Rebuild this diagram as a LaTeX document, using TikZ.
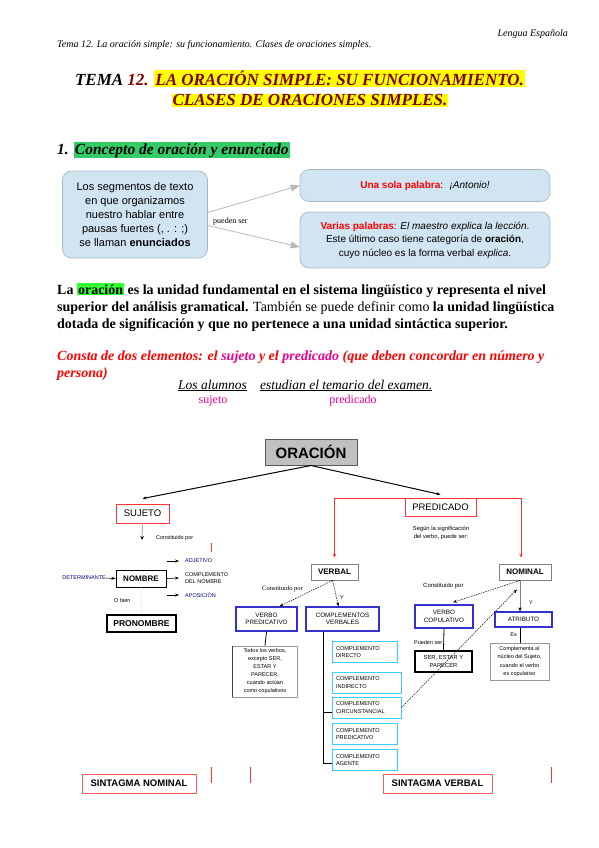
\documentclass[tikz,border=0pt]{standalone}
\usepackage{fontspec}
\setmainfont{Liberation Serif}
\setsansfont{Liberation Sans}
\usetikzlibrary{arrows.meta}
\definecolor{titlered}{RGB}{128,0,0}
\definecolor{hlyellow}{RGB}{255,255,0}
\definecolor{sectgreen}{RGB}{51,204,102}
\definecolor{hlgreen}{RGB}{51,255,51}
\definecolor{cloudfill}{RGB}{209,228,242}
\definecolor{cloudedge}{RGB}{165,185,200}
\definecolor{conred}{RGB}{255,51,51}
\definecolor{conblue}{RGB}{51,51,204}
\definecolor{concyan}{RGB}{60,205,255}
\definecolor{oracgray}{RGB}{192,192,192}
\definecolor{navytext}{RGB}{0,0,128}
\newcommand{\setfs}[2]{\fontsize{#1}{#2}\selectfont}
\setlength{\fboxsep}{1pt}

\begin{document}
\begin{tikzpicture}[
   x=1pt,y=-1pt,
   every node/.style={inner sep=0pt},
   cloud/.style={draw=cloudedge,fill=cloudfill,rounded corners=9pt,line width=0.7pt,align=center},
   cmap/.style={draw,fill=white,align=center,font=\sffamily\setfs{6.3}{7.5}},
   redbox/.style={cmap,draw=conred,line width=0.9pt},
   bluebox/.style={cmap,draw=conblue,line width=1.3pt},
   cyanbox/.style={cmap,draw=concyan,line width=1pt,align=left,inner xsep=4pt,font=\sffamily\setfs{5.6}{7.5}},
   notebox/.style={cmap,draw=gray!80,line width=0.8pt},
   tiny/.style={font=\sffamily\setfs{5.5}{8}},
   arr/.style={-{Stealth[length=4pt,width=3pt]},line width=0.6pt},
   tick/.style={conred,line width=0.9pt}
 ]
  \useasboundingbox (0,0) rectangle (599,848);

  % header and title
  \node[anchor=base east,font=\itshape\setfs{10}{11}] (lengua) at (568,37) {Lengua Española};
  \node[anchor=base west,font=\itshape\setfs{10}{11}] (tema) at (57,48) {Tema 12. La oración simple: su funcionamiento. Clases de oraciones simples.};
  \node[anchor=base,font=\bfseries\itshape\setfs{17}{20}] (tit1) at (300,86)
    {TEMA \textcolor{titlered}{12.} \colorbox{hlyellow}{\textcolor{titlered}{LA ORACIÓN SIMPLE: SU FUNCIONAMIENTO.}}};
  \node[anchor=base,font=\bfseries\itshape\setfs{17}{20}] (tit2) at (310,106)
    {\colorbox{hlyellow}{\textcolor{titlered}{CLASES DE ORACIONES SIMPLES.}}};

  % 1. concepto
  \node[anchor=base west,font=\bfseries\itshape\setfs{15.5}{17}] (sec1) at (57,154) {1. \colorbox{sectgreen}{Concepto de oración y enunciado}};
  \node[cloud,minimum width=145pt,minimum height=87pt,font=\sffamily\setfs{11}{14}] (segm) at (135,214.5)
    {Los segmentos de texto\\en que organizamos\\nuestro hablar entre\\pausas fuertes (, . : ;)\\se llaman \textbf{enunciados}};
  \node[cloud,minimum width=250pt,minimum height=32pt,font=\sffamily\setfs{10}{13}] (sola) at (425,185.5)
    {\textcolor{red}{\textbf{Una sola palabra}}: \ \textit{¡Antonio!}};
  \node[cloud,minimum width=250pt,minimum height=56pt,font=\sffamily\setfs{10}{13.5}] (varias) at (425,240)
    {\textcolor{red}{\textbf{Varias palabras}}: \textit{El maestro explica la lección}.\\Este último caso tiene categoría de \textbf{oración},\\cuyo núcleo es la forma verbal \textit{explica}.};
  \draw[gray!55,line width=0.8pt,-{Triangle[length=9pt,width=7pt]}] ([yshift=2pt]segm.east) -- (sola.west);
  \draw[gray!55,line width=0.8pt,-{Triangle[length=9pt,width=7pt]}] ([yshift=-11pt]segm.east) -- ([yshift=-7pt]varias.west);
  \node[anchor=base west,font=\setfs{8}{9}] (pueden) at (213,223) {pueden ser};

  % definition
  \node[anchor=base west,font=\bfseries\setfs{14}{17}] (par1) at (57,294)
    {La \colorbox{hlgreen}{oración} es la unidad fundamental en el sistema lingüístico y representa el nivel};
  \node[anchor=base west,font=\bfseries\setfs{14}{17}] (par2) at (57,311)
    {superior del análisis gramatical. \textmd{También se puede definir como} la unidad lingüística};
  \node[anchor=base west,font=\bfseries\setfs{14}{17}] (par3) at (57,328)
    {dotada de significación y que no pertenece a una unidad sintáctica superior.};
  \node[anchor=base west,font=\bfseries\itshape\setfs{14}{17},text=red] (cons1) at (57,360)
    {Consta de dos elementos: el \textcolor{magenta}{sujeto} y el \textcolor{magenta}{predicado} (que deben concordar en número y};
  \node[anchor=base west,font=\bfseries\itshape\setfs{14}{17},text=red] (cons2) at (57,377) {persona)};
  \node[anchor=base west,font=\itshape\setfs{13.5}{15}] (suj) at (178,389) {\underline{Los alumnos}};
  \node[anchor=base west,font=\itshape\setfs{13.5}{15}] (pred) at (260,389) {\underline{estudian el temario del examen.}};
  \node[anchor=base,text=magenta,font=\setfs{12}{13}] (sujlab) at (213,403) {sujeto};
  \node[anchor=base,text=magenta,font=\setfs{12}{13}] (predlab) at (353,403) {predicado};

  % concept map
  \node[cmap,draw=gray!70!black,fill=oracgray,line width=1pt,minimum width=92pt,minimum height=26pt,font=\sffamily\bfseries\setfs{15}{17}] (orac) at (311,452) {ORACIÓN};
  \node[redbox,minimum width=53pt,minimum height=19pt,font=\sffamily\setfs{9.5}{11}] (sujeto) at (142.5,513.5) {SUJETO};
  \node[redbox,minimum width=71pt,minimum height=18pt,font=\sffamily\setfs{9.5}{11}] (predicado) at (440.5,507) {PREDICADO};
  \draw[arr,line width=1pt] (orac.south) -- ([yshift=5pt]sujeto.north);
  \draw[arr,line width=1pt] (orac.south) -- ([yshift=3pt]predicado.north);

  \coordinate (sujend) at (142,540);
  \draw[gray!60,line width=1pt,-{Stealth[length=4pt,width=3.5pt,color=black]}] (sujeto.south) -- (sujend);
  \node[tiny,anchor=west] (constit) at (156,538) {Constituido por};
  \draw[tick] (211,543) -- (211,552);

  \node[cmap,line width=0.9pt,minimum width=50pt,minimum height=17pt,font=\sffamily\bfseries\setfs{8}{9}] (nombre) at (141,578.5) {NOMBRE};
  \node[tiny,anchor=east,text=navytext] (determ) at (106,578) {DETERMINANTE};
  \draw[arr] (determ.east) -- (nombre.west);
  \node[tiny,anchor=west,text=navytext] (adjet) at (185,561) {ADJETIVO};
  \node[tiny,anchor=west,align=left,font=\sffamily\setfs{5.5}{7}] (cnombre) at (185,578) {COMPLEMENTO\\DEL NOMBRE};
  \node[tiny,anchor=west,text=navytext] (aposic) at (185,595) {APOSICIÓN};
  \foreach \nm in {adjet,aposic}
    \draw[arr] ([xshift=-18pt]\nm.west) -- ([xshift=-6pt]\nm.west);
  \draw[arr] (nombre.east) -- ([xshift=-6pt]cnombre.west);
  \node[tiny,anchor=west] (obien) at (114,601) {O bien};
  \node[cmap,line width=1.1pt,minimum width=69pt,minimum height=17pt,font=\sffamily\bfseries\setfs{8.5}{10}] (pronom) at (141.5,623.5) {PRONOMBRE};
  \draw[gray!40,dotted,line width=0.8pt] (nombre.south) -- (pronom.north);

  \node[cmap,draw=gray,line width=0.8pt,minimum width=47pt,minimum height=16pt,font=\sffamily\bfseries\setfs{8}{9}] (verbal) at (334.5,572) {VERBAL};
  \node[cmap,draw=gray,line width=0.8pt,minimum width=52pt,minimum height=16pt,font=\sffamily\bfseries\setfs{8}{9}] (nominal) at (525,572) {NOMINAL};
  \draw[conred,line width=0.9pt,-{Stealth[length=4pt,width=3.5pt]}] ([yshift=-1pt]predicado.north west) -| ([yshift=6pt]verbal.north);
  \draw[conred,line width=0.9pt,-{Stealth[length=4pt,width=3.5pt]}] ([yshift=-1pt]predicado.north east) -| ([xshift=-4pt,yshift=6pt]nominal.north);
  \node[tiny,align=center,font=\sffamily\setfs{5.8}{8}] (segun) at (441,533) {Según la significación\\del verbo, puede ser:};

  % verbal
  \node[bluebox,minimum width=61pt,minimum height=24pt] (vpred) at (266.5,619) {VERBO\\PREDICATIVO};
  \node[bluebox,minimum width=73pt,minimum height=24pt] (cverb) at (342.5,619) {COMPLEMENTOS\\VERBALES};
  \draw[arr,dash pattern=on 1.5pt off 1pt,line width=0.5pt] ([xshift=-2pt]verbal.south) -- ([xshift=13pt]vpred.north);
  \draw[arr,dash pattern=on 1.5pt off 1pt,line width=0.5pt] ([xshift=-2pt]verbal.south) -- ([xshift=-4pt]cverb.north);
  \node[anchor=base west,font=\setfs{6.5}{8}] (constv) at (262,590) {Constituido por};
  \node[tiny] (yv) at (342,598) {Y};
  \node[notebox,minimum width=65pt,minimum height=51pt,font=\sffamily\setfs{5.5}{8}] (todos) at (265,671.5)
    {Todos los verbos,\\excepto SER,\\ESTAR Y\\PARECER,\\cuando actúan\\como copulativos};
  \draw[gray!50!black,line width=1.2pt] (todos.north west) -- (todos.south west);
  \draw[line width=0.8pt] (vpred.south) -- (todos.north);

  \foreach \nm/\yy/\ww/\txt in {cdir/652/65/DIRECTO,cind/682.5/69/INDIRECTO,ccirc/707.5/69/CIRCUNSTANCIAL,cpred/734/65/PREDICATIVO,cagen/760/65/AGENTE} {
    \pgfmathsetmacro\tw{\ww-8}
    \node[cyanbox,minimum height=21pt,text width=\tw pt] (\nm) at (332+\ww/2,\yy) {COMPLEMENTO\\\txt};
  }
  \draw[line width=0.9pt] ([xshift=-19.5pt]cverb.south) |- ([yshift=-4.5pt]ccirc.west);
  \draw[line width=0.9pt] ([xshift=-19.5pt]cverb.south) |- ([yshift=-3pt]cagen.west);

  % nominal
  \node[bluebox,minimum width=58pt,minimum height=23pt] (vcop) at (444,616.5) {VERBO\\COPULATIVO};
  \node[bluebox,minimum width=57pt,minimum height=15pt] (atrib) at (523.5,619.5) {ATRIBUTO};
  \draw[arr,dash pattern=on 1.5pt off 1pt,line width=0.5pt] ([xshift=-5pt]nominal.south) -- ([xshift=9pt,yshift=2pt]vcop.north);
  \draw[gray,line width=1pt,-{Stealth[length=4pt,width=3.5pt,color=black]}] ([xshift=-5pt]nominal.south) -- ([xshift=-3.5pt]atrib.north);
  \node[anchor=base west,font=\sffamily\setfs{6}{7}] (constn) at (423,587) {Constituido por};
  \node[tiny] (yn) at (531,603) {Y};
  \node[tiny,anchor=east] (pueden2) at (444,643) {Pueden ser:};
  \node[cmap,line width=1.1pt,minimum width=57pt,minimum height=21pt,font=\sffamily\setfs{5.8}{8}] (serestar) at (443.5,661.5) {SER, ESTAR Y\\PARECER};
  \draw[line width=0.8pt] (vcop.south) -- (serestar.north);
  \node[notebox,minimum width=59pt,minimum height=37pt,font=\sffamily\setfs{5.5}{8.5}] (compl) at (519.5,661.5)
    {Complementa al\\núcleo del Sujeto,\\cuando el verbo\\es copulativo};
  \draw[line width=0.8pt] ([xshift=-3.5pt]atrib.south) -- ([xshift=0.5pt]compl.north);
  \node[tiny,anchor=east] (es) at (517,635) {Es};
  \draw[arr,dash pattern=on 1.5pt off 1pt,line width=0.5pt] (ccirc.east) -- ([xshift=-8pt,yshift=-9pt]nominal.south);

  % sintagmas
  \node[cmap,draw=conred!80,line width=1pt,minimum width=114pt,minimum height=19pt,font=\sffamily\bfseries\setfs{9.5}{11}] (snom) at (139,783.5) {SINTAGMA NOMINAL};
  \node[cmap,draw=conred!80,line width=1pt,minimum width=109pt,minimum height=19pt,font=\sffamily\bfseries\setfs{9.5}{11}] (sverb) at (437.5,783.5) {SINTAGMA VERBAL};
  \foreach \x in {211,250,551}
    \draw[tick] (\x,767) -- (\x,783);
\end{tikzpicture}
\end{document}
